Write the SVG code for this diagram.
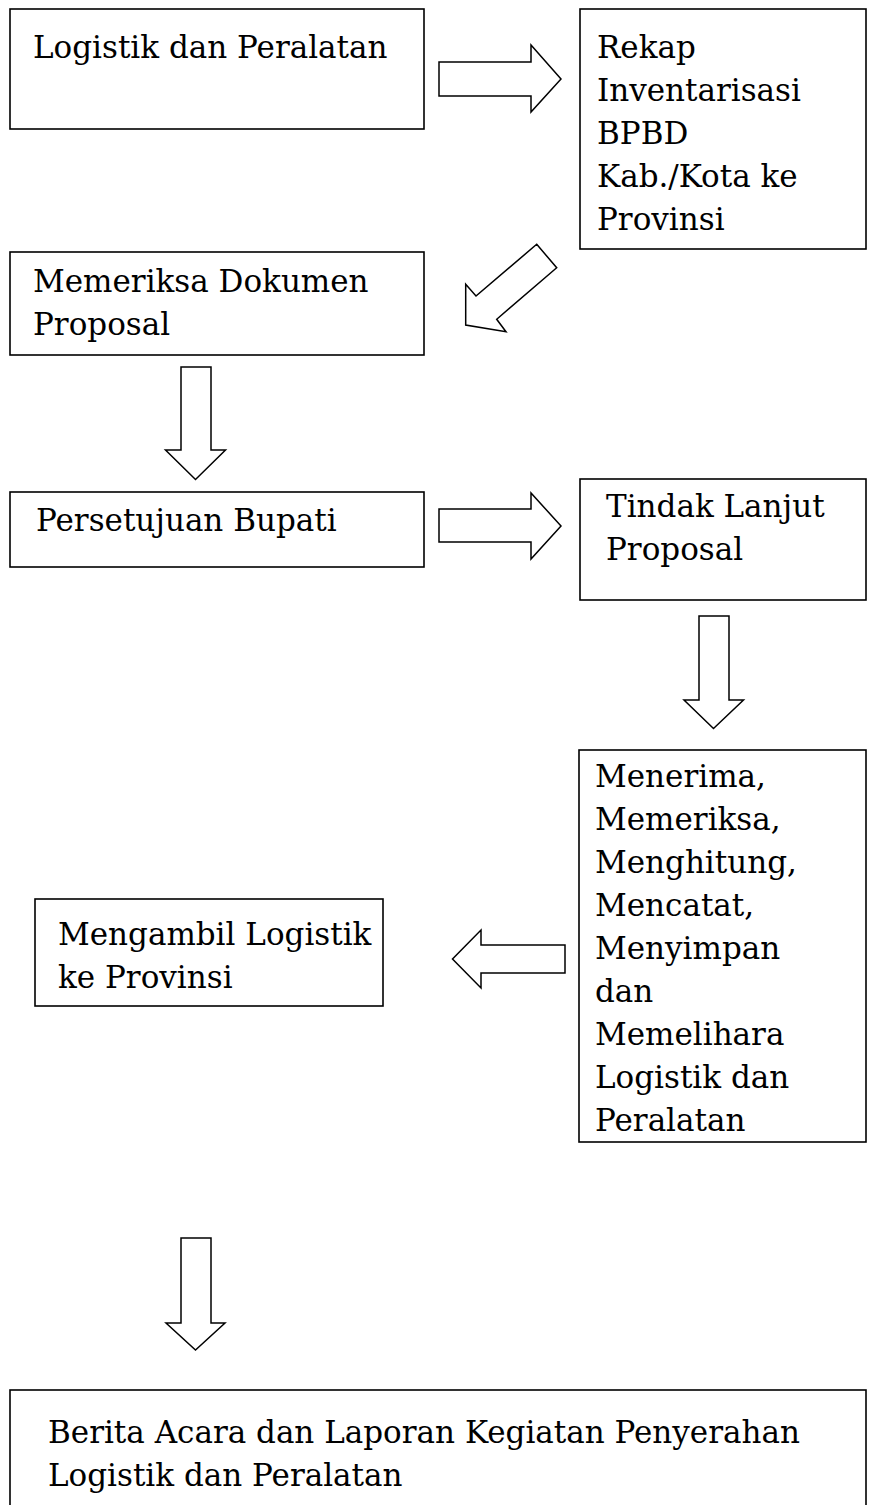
<svg xmlns="http://www.w3.org/2000/svg" width="873" height="1505" viewBox="0 0 873 1505">
<style>
.box{fill:#fff;stroke:#000;stroke-width:1.6}
.arr{fill:#fff;stroke:#000;stroke-width:1.5;stroke-linejoin:miter}
text{font-family:"DejaVu Serif","Liberation Serif",serif;font-size:31px;fill:#000}
</style>
<rect width="873" height="1505" fill="#fff"/>
<g id="n1"><rect class="box" x="10" y="9" width="414" height="120"/><text x="33" y="58">Logistik dan Peralatan</text></g>
<g id="n2"><rect class="box" x="580" y="9" width="286" height="240"/><text x="597" y="58">Rekap</text><text x="597" y="101">Inventarisasi</text><text x="597" y="144">BPBD</text><text x="597" y="187">Kab./Kota ke</text><text x="597" y="230">Provinsi</text></g>
<g id="n3"><rect class="box" x="10" y="252" width="414" height="103"/><text x="33" y="292">Memeriksa Dokumen</text><text x="33" y="335">Proposal</text></g>
<g id="n4"><rect class="box" x="10" y="492" width="414" height="75"/><text x="36" y="531">Persetujuan Bupati</text></g>
<g id="n5"><rect class="box" x="580" y="479" width="286" height="121"/><text x="606" y="517">Tindak Lanjut</text><text x="606" y="560">Proposal</text></g>
<g id="n6"><rect class="box" x="579" y="750" width="287" height="392"/><text x="595" y="787">Menerima,</text><text x="595" y="830">Memeriksa,</text><text x="595" y="873">Menghitung,</text><text x="595" y="916">Mencatat,</text><text x="595" y="959">Menyimpan</text><text x="595" y="1002">dan</text><text x="595" y="1045">Memelihara</text><text x="595" y="1088">Logistik dan</text><text x="595" y="1131">Peralatan</text></g>
<g id="n7"><rect class="box" x="35" y="899" width="348" height="107"/><text x="58" y="945">Mengambil Logistik</text><text x="58" y="988">ke Provinsi</text></g>
<g id="n8"><rect class="box" x="10" y="1390" width="856" height="130"/><text x="48" y="1443">Berita Acara dan Laporan Kegiatan Penyerahan</text><text x="48" y="1486">Logistik dan Peralatan</text></g>
<g id="connectors">
<polygon class="arr" points="439,62 531,62 531,45 561,79 531,112 531,96 439,96"/>
<polygon class="arr" points="536.7,244.3 556.7,267.7 496.7,319.3 506,331.7 465.7,325 465.7,284.3 476,296"/>
<polygon class="arr" points="181,367 211,367 211,450 225.5,450 195.5,479.5 165.5,450 181,450"/>
<polygon class="arr" points="439,509 531,509 531,493 561,526 531,559 531,542 439,542"/>
<polygon class="arr" points="699,616 729,616 729,700 743.5,700 713.5,728.5 684,700 699,700"/>
<polygon class="arr" points="565,945 481,945 481,930 452.5,959 481,988 481,973 565,973"/>
<polygon class="arr" points="181,1238 211,1238 211,1323 225,1323 195.5,1350 166,1323 181,1323"/>
</g>
</svg>
